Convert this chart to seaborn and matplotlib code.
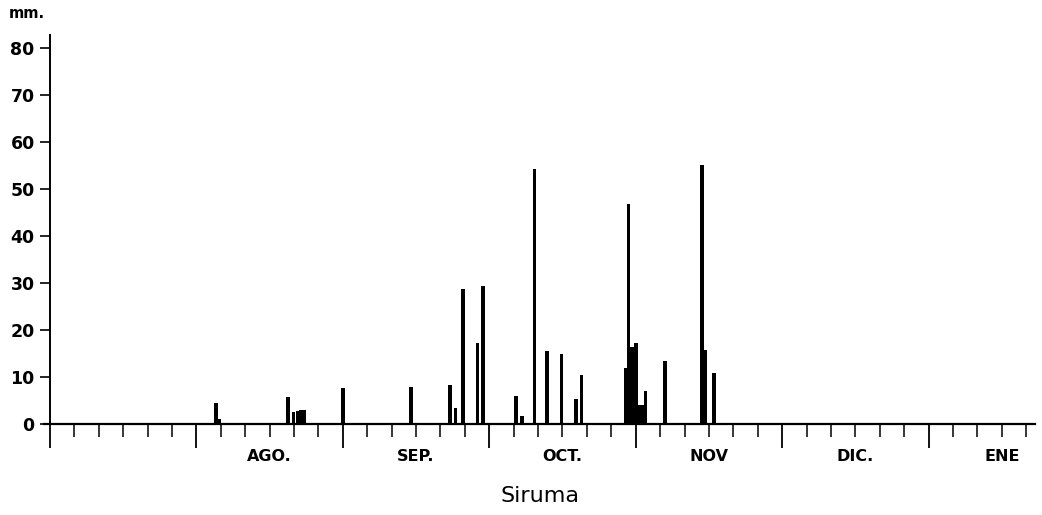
import matplotlib
matplotlib.use("Agg")
import matplotlib.pyplot as plt
import numpy as np
import pandas as pd
import seaborn as sns

# days counted from 1 July (each month drawn as 30 days, ticks every 5 days)
day = [34.0, 34.6, 48.8, 49.9, 50.7, 51.4, 52.1, 60.0, 74.0, 81.9, 83.1, 84.6,
       87.6, 88.7, 95.5, 96.7, 99.3, 101.8, 104.8, 107.8, 108.9, 117.9, 118.5,
       119.3, 120.0, 120.8, 121.5, 122.0, 126.0, 133.6, 134.2, 136.1]
rain_mm = [4.5, 1.0, 5.8, 2.5, 2.8, 3.0, 3.0, 7.6, 7.9, 8.3, 3.3, 28.7,
           17.2, 29.4, 6.0, 1.7, 54.3, 15.5, 14.9, 5.3, 10.4, 12.0, 46.7,
           16.4, 17.3, 4.0, 4.0, 7.0, 13.5, 55.0, 15.7, 10.8]

month_starts = [0, 30, 60, 90, 120, 150, 180]
month_labels = ["AGO.", "SEP.", "OCT.", "NOV", "DIC.", "ENE"]
month_centers = [45, 75, 105, 135, 165, 195]
y_ticks = [0, 10, 20, 30, 40, 50, 60, 70, 80]

df = pd.DataFrame({"day": day, "mm": rain_mm})

sns.set_theme(style="ticks")
plt.rcParams["font.family"] = ["DejaVu Sans"]
plt.rcParams["text.color"] = "black"
plt.rcParams["xtick.color"] = "black"
plt.rcParams["ytick.color"] = "black"
plt.rcParams["axes.labelcolor"] = "black"
plt.rcParams["axes.edgecolor"] = "black"

fig = plt.figure(figsize=(10.42, 5.15), dpi=100)
ax = fig.add_axes([0.0423, 0.1767, 0.951, 0.7553])

min_gap = np.min(np.diff(np.unique(df["day"])))
sns.barplot(data=df, x="day", y="mm", native_scale=True, width=0.75 / min_gap,
            color="black", saturation=1, linewidth=0, errorbar=None, ax=ax)

ax.set_xlim(-1.2, 201.8)
ax.set_ylim(0, 82.7)

for side in ["top", "right"]:
    ax.spines[side].set_visible(False)
ax.spines["left"].set_position(("data", 0))
ax.spines["left"].set_linewidth(1.4)
ax.spines["bottom"].set_linewidth(1.6)

ax.set_yticks(y_ticks)
ax.set_yticklabels([str(v) for v in y_ticks], fontsize=12.5, fontweight="bold")
ax.tick_params(axis="y", direction="out", length=7, width=1.2, pad=4)

minor = [d for d in range(5, 202, 5) if d % 30 != 0]
minor_labels = [month_labels[month_centers.index(d)] if d in month_centers else "" for d in minor]
ax.set_xticks(month_starts)
ax.set_xticklabels([])
ax.set_xticks(minor, labels=minor_labels, minor=True)
ax.tick_params(axis="x", which="major", direction="out", length=17, width=1.3)
ax.tick_params(axis="x", which="minor", direction="out", length=9, width=1.1,
               pad=9, labelsize=11.5)
for lbl in ax.get_xticklabels(minor=True):
    lbl.set_fontweight("bold")

ax.set_xlabel("Siruma", fontsize=16, labelpad=16)
ax.set_ylabel("")
fig.text(0.008, 0.988, "mm.", fontsize=10.5, fontweight="bold", va="top", ha="left")

fig.savefig("out.png", dpi=100, facecolor="white")
